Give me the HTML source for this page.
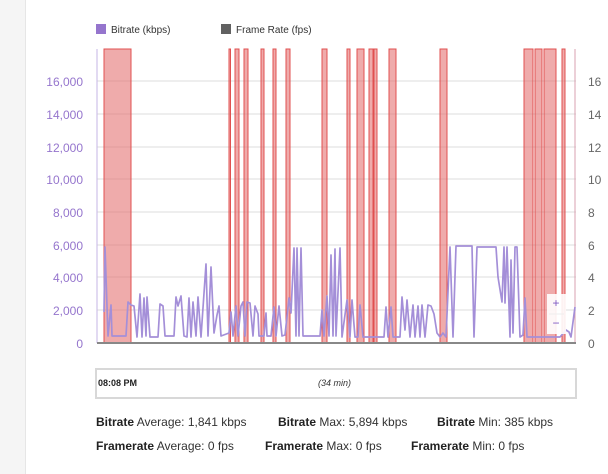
<!DOCTYPE html>
<html><head><meta charset="utf-8"><style>
body{margin:0;width:608px;height:474px;background:#fff;font-family:"Liberation Sans",sans-serif;position:relative;overflow:hidden}
.strip{position:absolute;left:0;top:0;width:25px;height:474px;background:#f5f5f5;border-right:1px solid #e6e6e6}
.st{position:absolute;font-size:12px;color:#333;white-space:nowrap}
.st b{color:#222}
</style></head><body>
<div class="strip"></div>
<svg width="608" height="474" style="position:absolute;left:0;top:0" font-family="Liberation Sans, sans-serif">
<rect x="96" y="24" width="10" height="10" fill="#9575cd"/>
<text x="111" y="33" font-size="10" fill="#333">Bitrate (kbps)</text>
<rect x="221" y="24" width="10" height="10" fill="#616161"/>
<text x="236" y="33" font-size="10" fill="#333">Frame Rate (fps)</text>
<g stroke="#ddd" stroke-width="1">
<line x1="97" x2="576" y1="81" y2="81"/><line x1="97" x2="576" y1="114" y2="114"/><line x1="97" x2="576" y1="147" y2="147"/><line x1="97" x2="576" y1="179" y2="179"/><line x1="97" x2="576" y1="212" y2="212"/><line x1="97" x2="576" y1="245" y2="245"/><line x1="97" x2="576" y1="277" y2="277"/><line x1="97" x2="576" y1="310" y2="310"/>
</g>
<g font-size="12" fill="#9575cd" text-anchor="end">
<text x="83" y="86">16,000</text><text x="83" y="119">14,000</text><text x="83" y="152">12,000</text><text x="83" y="184">10,000</text><text x="83" y="217">8,000</text><text x="83" y="250">6,000</text><text x="83" y="282">4,000</text><text x="83" y="315">2,000</text><text x="83" y="348">0</text>
</g>
<g font-size="12" fill="#666">
<text x="588" y="86">16</text><text x="588" y="119">14</text><text x="588" y="152">12</text><text x="588" y="184">10</text><text x="588" y="217">8</text><text x="588" y="250">6</text><text x="588" y="282">4</text><text x="588" y="315">2</text><text x="588" y="348">0</text>
</g>
<g fill="#e57373" fill-opacity="0.6" stroke="#e05050" stroke-width="1">
<rect x="104" y="49" width="27" height="294"/>
<rect x="229" y="49" width="1.5" height="294"/>
<rect x="235" y="49" width="4" height="294"/>
<rect x="244" y="49" width="4" height="294"/>
<rect x="261" y="49" width="3" height="294"/>
<rect x="273" y="49" width="3" height="294"/>
<rect x="286" y="49" width="4" height="294"/>
<rect x="322" y="49" width="5" height="294"/>
<rect x="347" y="49" width="3" height="294"/>
<rect x="357" y="49" width="7" height="294"/>
<rect x="369" y="49" width="4" height="294"/>
<rect x="374" y="49" width="3" height="294"/>
<rect x="389" y="49" width="7" height="294"/>
<rect x="440" y="49" width="7" height="294"/>
<rect x="524" y="49" width="9" height="294"/>
<rect x="535" y="49" width="7" height="294"/>
<rect x="544" y="49" width="12" height="294"/>
<rect x="562" y="49" width="3" height="294"/>
</g>
<line x1="575" y1="49" x2="575" y2="343" stroke="#d8a0b0" stroke-width="1"/>
<line x1="97" y1="49" x2="97" y2="343" stroke="#c5b5e5" stroke-width="1"/>
<polyline fill="none" stroke="#a48fd8" stroke-width="1.7" stroke-linejoin="round" points="104,312 105,247 108,336 111,305 112,336 126,336 128,302 131,305 134,306 137,337 140,294 142,337 144,298 146,336 147,297 150,337 158,337 160,304 163,306 165,336 174,336 176,297 178,306 181,296 184,336 187,337 189,298 191,337 193,302 196,336 198,297 201,337 206,264 208,336 211,267 214,333 217,315 219,306 221,336 229,333 231,312 233,336 236,306 238,336 241,306 243,302 245,336 247,302 250,303 253,336 255,306 258,314 259,336 264,336 266,313 267,336 271,336 274,307 276,336 279,306 282,336 285,335 289,298 291,313 294,248 296,336 297,248 299,336 301,248 303,336 320,336 322,310 324,336 327,296 329,336 331,255 333,336 335,249 336,336 340,248 342,337 347,300 350,337 352,300 355,337 358,337 360,305 363,337 384,337 386,307 388,337 391,307 393,337 400,337 402,297 405,330 407,300 410,337 413,305 415,337 418,306 420,337 422,305 425,337 428,305 431,306 434,314 437,333 440,337 443,333 446,337 450,247 453,337 456,246 472,246 474,337 477,247 496,247 498,277 502,302 504,247 505,303 507,247 510,337 511,260 513,333 515,247 517,247 520,337 523,335 525,298 527,337 545,337 560,337 566,330 569,332 571,337 575,307"/>
<line x1="97" y1="343" x2="576" y2="343" stroke="#888" stroke-width="2"/>
<rect x="547" y="294" width="19" height="40" fill="#fff" fill-opacity="0.9"/>
<text x="556" y="307" font-size="12" fill="#7e57c2" text-anchor="middle">+</text>
<line x1="549" y1="314" x2="564" y2="314" stroke="#eee"/>
<text x="556" y="327" font-size="12" fill="#7e57c2" text-anchor="middle">−</text>
<rect x="96" y="369" width="480" height="29" fill="#fff" stroke="#d8d8d8" stroke-width="2"/>
<text x="98" y="386" font-size="9" font-weight="bold" fill="#222">08:08 PM</text>
<text x="318" y="386" font-size="9" font-style="italic" fill="#333">(34 min)</text>
</svg>
<div class="st" style="left:96px;top:415px"><b>Bitrate</b> Average: 1,841 kbps</div>
<div class="st" style="left:278px;top:415px"><b>Bitrate</b> Max: 5,894 kbps</div>
<div class="st" style="left:437px;top:415px"><b>Bitrate</b> Min: 385 kbps</div>
<div class="st" style="left:96px;top:439px"><b>Framerate</b> Average: 0 fps</div>
<div class="st" style="left:265px;top:439px"><b>Framerate</b> Max: 0 fps</div>
<div class="st" style="left:411px;top:439px"><b>Framerate</b> Min: 0 fps</div>
</body></html>
